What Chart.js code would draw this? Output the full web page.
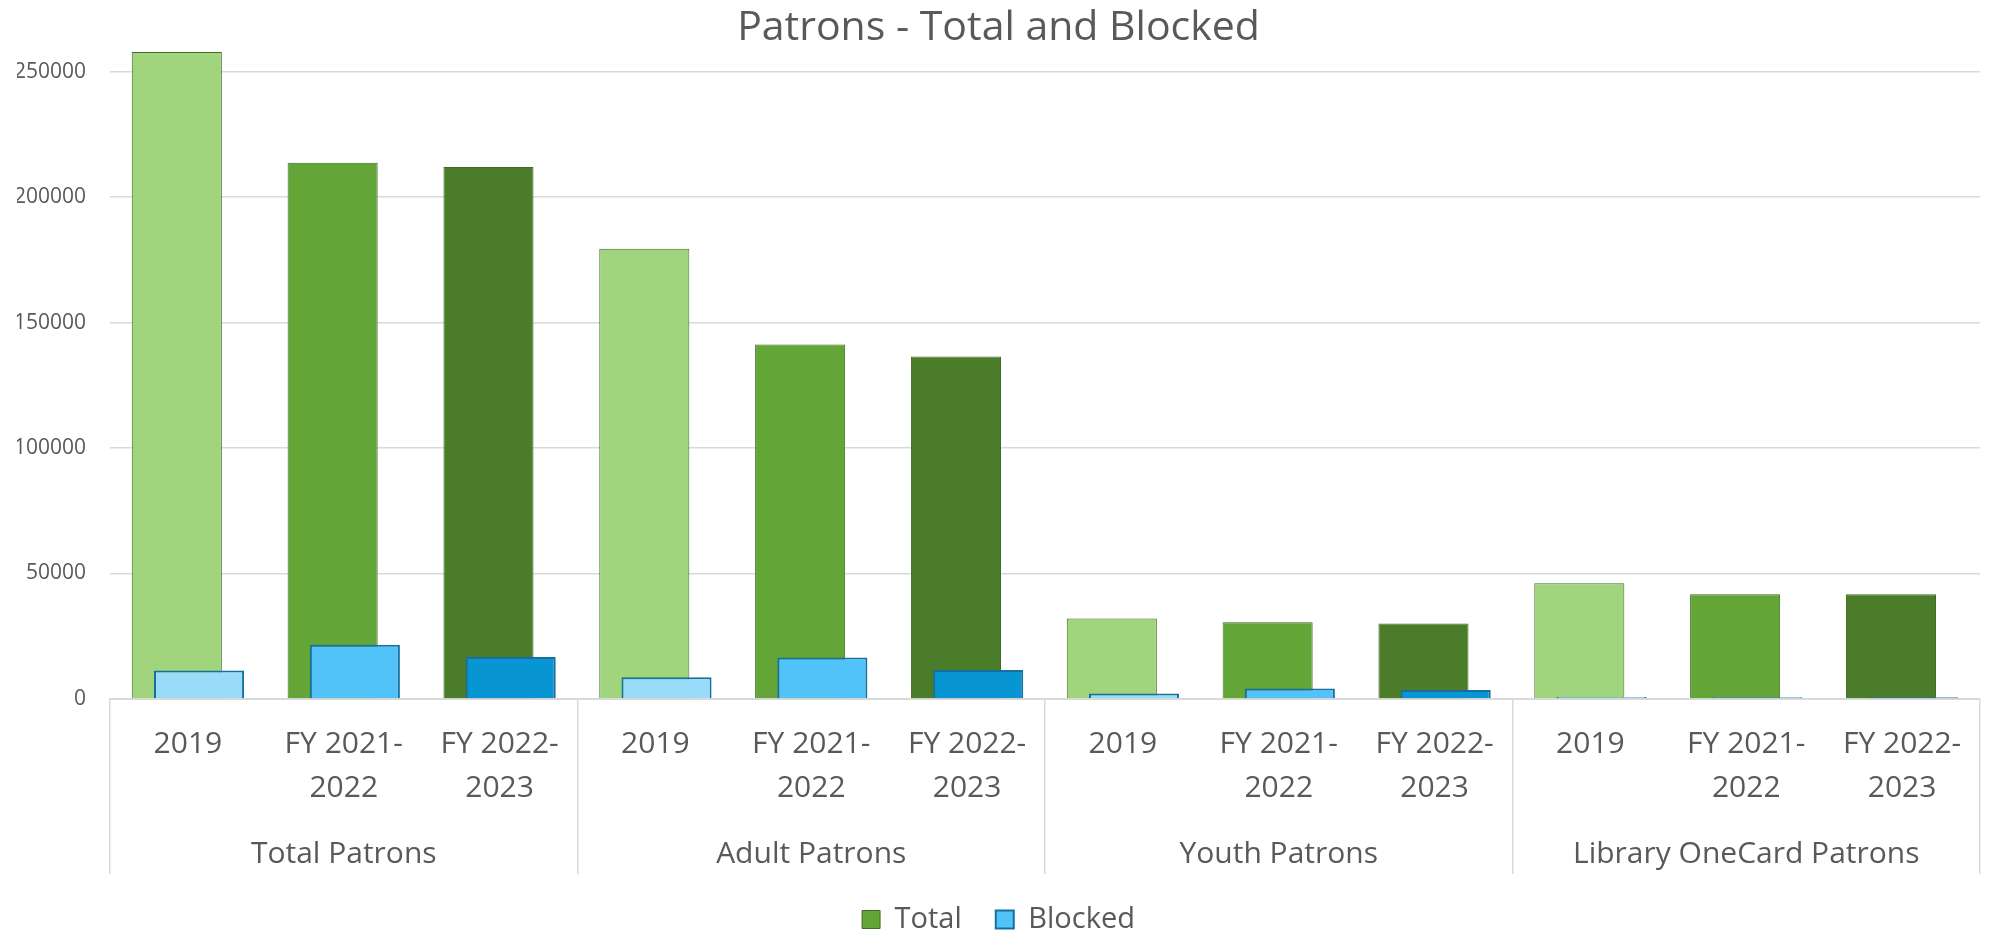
<!DOCTYPE html>
<html>
<head>
<meta charset="utf-8">
<script src="https://cdn.jsdelivr.net/npm/chart.js@4.4.0/dist/chart.umd.min.js"></script>
<style>
html,body{margin:0;padding:0;background:#ffffff;}
#wrap{width:1990px;height:937px;}
</style>
</head>
<body>
<div id="wrap"><canvas id="c" width="1990" height="937"></canvas></div>
<script>
// ---- data ----
const groups = ['Total Patrons', 'Adult Patrons', 'Youth Patrons', 'Library OneCard Patrons'];
const periods = ['2019', 'FY 2021-2022', 'FY 2022-2023'];
const totalValues = [257800, 213700, 212000, 179400, 141200, 136500, 32100, 30600, 30100, 46100, 41700, 41700];
const blockedValues = [11400, 21600, 16700, 8700, 16500, 11600, 2200, 4200, 3600, 800, 700, 700];
const yTicks = [0, 50000, 100000, 150000, 200000, 250000];

// ---- styles ----
const totalColors = ['#A0D47D', '#63A537', '#4A7C2A'];
const blockedColors = ['#99DBF9', '#51C3F9', '#0796D3'];
const textColor = '#595959';
const lineColor = '#d9d9d9';
const barShift = 0.0713;

function periodLines(p) {
  const m = p.match(/^(FY \d{4}-)(\d{4})$/);
  return m ? [m[1], '', m[2]] : [p];
}
const labels = groups.flatMap(g => periods.map((p, j) => {
  const lines = periodLines(p);
  if (j === Math.floor(periods.length / 2)) {
    while (lines.length < 5) lines.push('');
    lines.push(g);
  }
  return lines;
}));

const ctx = document.getElementById('c').getContext('2d');
new Chart(ctx, {
  type: 'bar',
  data: {
    labels: labels,
    datasets: [
      {
        label: 'Total',
        data: totalValues.map((v, i) => ({x: i, y: v})),
        xAxisID: 'xt',
        grouped: false,
        order: 1,
        backgroundColor: c => totalColors[(c.dataIndex || 0) % 3],
        borderColor: '#416B27',
        borderWidth: 1,
        categoryPercentage: 1,
        barPercentage: 0.578
      },
      {
        label: 'Blocked',
        data: blockedValues.map((v, i) => ({x: i, y: v})),
        xAxisID: 'xb',
        grouped: false,
        order: 0,
        backgroundColor: c => blockedColors[(c.dataIndex || 0) % 3],
        borderColor: '#16709F',
        borderWidth: 2,
        categoryPercentage: 1,
        barPercentage: 0.578
      }
    ]
  },
  options: {
    responsive: false,
    animation: false,
    events: [],
    layout: {padding: {left: 17, right: 10, top: 0, bottom: -7}},
    plugins: {
      title: {
        display: true,
        text: 'Patrons - Total and Blocked',
        color: textColor,
        font: {family: 'Open Sans', size: 41, weight: 'normal', lineHeight: 1.2},
        padding: {top: 4, bottom: -7}
      },
      legend: {
        position: 'bottom',
        labels: {
          boxWidth: 18,
          boxHeight: 18,
          padding: 34,
          color: textColor,
          font: {family: 'Open Sans', size: 29},
          sort: (a, b) => a.datasetIndex - b.datasetIndex,
          generateLabels: chart => Chart.defaults.plugins.legend.labels.generateLabels(chart).map(l => Object.assign(l, {
            fillStyle: l.datasetIndex === 0 ? totalColors[1] : blockedColors[1]
          }))
        }
      },
      tooltip: {enabled: false}
    },
    scales: {
      x: {
        type: 'category',
        position: 'bottom',
        offset: true,
        afterFit: s => { s.height = 172; },
        grid: {
          offset: true,
          drawOnChartArea: false,
          drawTicks: true,
          tickLength: 175,
          lineWidth: 1.5,
          color: c => (c.index === undefined || c.index % 3 === 0) ? lineColor : 'rgba(0,0,0,0)'
        },
        border: {display: true, color: lineColor, width: 2},
        ticks: {
          autoSkip: false,
          maxRotation: 0,
          minRotation: 0,
          padding: -141,
          color: textColor,
          font: {family: 'Open Sans', size: 30, lineHeight: '22px'}
        }
      },
      xt: {
        type: 'linear',
        display: false,
        offset: false,
        min: -0.5 + barShift,
        max: labels.length - 0.5 + barShift,
        ticks: {stepSize: 1, includeBounds: false}
      },
      xb: {
        type: 'linear',
        display: false,
        offset: false,
        min: -0.5 - barShift,
        max: labels.length - 0.5 - barShift,
        ticks: {stepSize: 1, includeBounds: false}
      },
      y: {
        type: 'linear',
        min: 0,
        max: 260100,
        afterBuildTicks: s => { s.ticks = yTicks.map(v => ({value: v})); },
        afterFit: s => { s.width = 93; },
        grid: {color: lineColor, lineWidth: 1.5, drawTicks: false},
        border: {display: false},
        ticks: {
          padding: 24,
          color: textColor,
          font: {family: 'Open Sans', size: 21},
          callback: v => String(v)
        }
      }
    }
  }
});
</script>
</body>
</html>
